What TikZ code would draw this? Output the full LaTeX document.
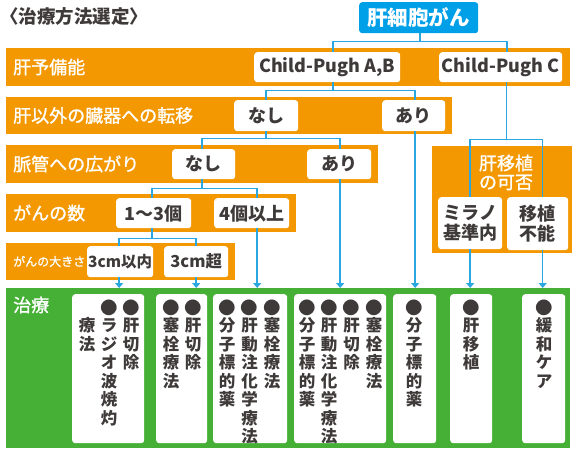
\documentclass[tikz,border=0pt]{standalone}
\usepackage{fontspec}
\setmainfont{Noto Sans CJK JP}
\newfontfamily\medjp{Noto Sans CJK JP}[FakeBold=1.2]
\usetikzlibrary{arrows.meta}
\definecolor{orng}{HTML}{F39800}
\definecolor{topblue}{HTML}{00A0E9}
\definecolor{lblue}{HTML}{2AA7E0}
\definecolor{grn}{HTML}{45B035}
\definecolor{ink}{HTML}{3E3A39}
\newcommand{\bul}{\rule{0pt}{14pt}\raisebox{-1.5pt}[0pt][0pt]{\fontsize{17.5}{18}\selectfont ●}}
\newcommand{\nobul}{\rule{0pt}{14pt}}
\begin{document}
\begin{tikzpicture}[x=1pt,y=-1pt,
  band/.style={fill=orng, draw=none, inner sep=0pt, anchor=north west},
  lbl/.style={text=white, font=\medjp\fontsize{18}{20}\selectfont, anchor=west, inner sep=0pt},
  wbox/.style={fill=white, rounded corners=3pt, inner sep=0pt, anchor=north west, text=ink,
    font=\bfseries\fontsize{18}{20}\selectfont, align=center},
  rbox/.style={fill=white, rounded corners=3pt, inner sep=0pt, anchor=north west},
  vtext/.style={text=ink, font=\bfseries\fontsize{16.5}{18.5}\selectfont, align=center, anchor=north, inner sep=0pt},
  conn/.style={draw=lblue, line width=1.5pt},
  arr/.style={conn, -{Triangle[width=8pt,length=5pt]}}
]
\useasboundingbox (0,0) rectangle (573,449);

% title
\node[anchor=west, inner sep=0pt, text=ink, font=\bfseries\fontsize{18.5}{20}\selectfont] (title) at (0,17) {〈治療方法選定〉};

% top node
\node[fill=topblue, rounded corners=3pt, anchor=north west, inner sep=0pt, minimum width=119pt, minimum height=31pt,
  text=white, font=\bfseries\fontsize{20.5}{22}\selectfont] (liver) at (359,2) {肝細胞がん};

% orange bands
\node[band, minimum width=564pt, minimum height=38pt] (b1) at (6,48) {};
\node[band, minimum width=446pt, minimum height=37pt] (b2) at (6,97) {};
\node[band, minimum width=372pt, minimum height=38pt] (b3) at (6,145) {};
\node[band, minimum width=290pt, minimum height=38pt] (b4) at (6,194) {};
\node[band, minimum width=229pt, minimum height=37pt] (b5) at (6,243) {};
\node[band, minimum width=140pt, minimum height=107pt] (txbox) at (432,146) {};

\node[lbl] (l1) at (13,67) {肝予備能};
\node[lbl] (l2) at (13,115.5) {肝以外の臓器への転移};
\node[lbl] (l3) at (13,164) {脈管への広がり};
\node[lbl] (l4) at (13,213) {がんの数};
\node[lbl, font=\medjp\fontsize{12}{14}\selectfont] (l5) at (13,261.5) {がんの大きさ};
\node[text=white, font=\medjp\fontsize{18}{19}\selectfont, align=center, inner sep=0pt] (ltx) at (506,172.5) {肝移植\\の可否};

% green band
\node[fill=grn, inner sep=0pt, anchor=north west, minimum width=564pt, minimum height=160pt] (treat) at (6,288) {};
\node[lbl] (lt) at (13,305) {治療};

% white decision boxes
\node[wbox, minimum width=146pt, minimum height=30pt] (cpab) at (254,52) {Child-Pugh A,B};
\node[wbox, minimum width=123pt, minimum height=30pt] (cpc) at (439,52) {Child-Pugh C};
\node[wbox, minimum width=64pt, minimum height=31pt] (n2) at (234,100) {なし};
\node[wbox, minimum width=63pt, minimum height=31pt] (a2) at (382,100) {あり};
\node[wbox, minimum width=63pt, minimum height=30pt] (n3) at (172,149) {なし};
\node[wbox, minimum width=64pt, minimum height=30pt] (a3) at (307,149) {あり};
\node[wbox, minimum width=75pt, minimum height=30pt] (c13) at (116,198) {1〜3個};
\node[wbox, minimum width=75pt, minimum height=30pt] (c4) at (214,198) {4個以上};
\node[wbox, minimum width=66pt, minimum height=31pt, font=\bfseries\fontsize{15.5}{18}\selectfont] (s1) at (87,246) {3cm以内};
\node[wbox, minimum width=64pt, minimum height=31pt, font=\bfseries\fontsize{16.5}{18}\selectfont] (s2) at (164,246) {3cm超};
\node[wbox, minimum width=64pt, minimum height=52pt, font=\bfseries\fontsize{18}{20}\selectfont] (mil) at (438,197) {ミラノ\\基準内};
\node[wbox, minimum width=61pt, minimum height=53pt, font=\bfseries\fontsize{18}{20}\selectfont] (nt) at (507,197) {移植\\不能};

% result boxes
\node[rbox, minimum width=72pt, minimum height=149pt] (r1) at (72,294) {};
\node[rbox, minimum width=51pt, minimum height=149pt] (r2) at (156,294) {};
\node[rbox, minimum width=74pt, minimum height=149pt] (r3) at (213,294) {};
\node[rbox, minimum width=92pt, minimum height=149pt] (r4) at (294,294) {};
\node[rbox, minimum width=43pt, minimum height=149pt] (r5) at (393,294) {};
\node[rbox, minimum width=42pt, minimum height=149pt] (r6) at (450,294) {};
\node[rbox, minimum width=43pt, minimum height=149pt] (r7) at (522,294) {};

% vertical texts
\node[vtext] (r1a) at (131,299) {\bul\\肝\\切\\除};
\node[vtext] (r1b) at (109,299) {\bul\\ラ\\ジ\\オ\\波\\焼\\灼};
\node[vtext] (r1c) at (87,299) {\nobul\\療\\法};
\node[vtext] (r2a) at (193,299) {\bul\\肝\\切\\除};
\node[vtext] (r2b) at (171,299) {\bul\\塞\\栓\\療\\法};
\node[vtext] (r3a) at (272,299) {\bul\\塞\\栓\\療\\法};
\node[vtext] (r3b) at (249.5,299) {\bul\\肝\\動\\注\\化\\学\\療\\法};
\node[vtext] (r3c) at (227,299) {\bul\\分\\子\\標\\的\\薬};
\node[vtext] (r4a) at (374,299) {\bul\\塞\\栓\\療\\法};
\node[vtext] (r4b) at (351.5,299) {\bul\\肝\\切\\除};
\node[vtext] (r4c) at (329,299) {\bul\\肝\\動\\注\\化\\学\\療\\法};
\node[vtext] (r4d) at (307,299) {\bul\\分\\子\\標\\的\\薬};
\node[vtext] (r5a) at (414,299) {\bul\\分\\子\\標\\的\\薬};
\node[vtext] (r6a) at (471,299) {\bul\\肝\\移\\植};
\node[vtext] (r7a) at (544,299) {\bul\\緩\\和\\ケ\\ア};

% connectors
\draw[conn] ([xshift=1.5pt]liver.south) -- ++(0,8) -| ([xshift=6pt]cpab.north);
\draw[conn] ([xshift=1.5pt]liver.south) ++(0,8) -| ([xshift=6.5pt]cpc.north);

\draw[conn] ([xshift=6pt]cpab.south) -- ++(0,8) -| (n2.north);
\draw[conn] ([xshift=6pt]cpab.south) ++(0,8) -| ([xshift=1.5pt]a2.north);

\draw[conn] (n2.south) -- ++(0,7) -| ([xshift=-1.5pt]n3.north);
\draw[conn] (n2.south) ++(0,7) -| ([xshift=1pt]a3.north);

\draw[conn] ([xshift=-1.5pt]n3.south) -- ++(0,9) -| ([xshift=-1.5pt]c13.north);
\draw[conn] ([xshift=-1.5pt]n3.south) ++(0,9) -| ([xshift=5.5pt]c4.north);

\draw[conn] ([xshift=-1.5pt]c13.south) -- ++(0,10) -| ([xshift=-1pt]s1.north);
\draw[conn] ([xshift=-1.5pt]c13.south) ++(0,10) -| (s2.north);

\draw[conn] ([xshift=6pt]cpc.south) -- ++(0,57) -| (mil.north);
\draw[conn] ([xshift=6pt]cpc.south) ++(0,57) -| ([xshift=5pt]nt.north);

\draw[arr] ([xshift=-1pt]s1.south) -- ([xshift=-1pt]s1.south |- treat.north);
\draw[arr] (s2.south) -- (s2.south |- treat.north);
\draw[arr] ([xshift=5.5pt]c4.south) -- ([xshift=5.5pt]c4.south |- treat.north);
\draw[arr] ([xshift=1pt]a3.south) -- ([xshift=1pt]a3.south |- treat.north);
\draw[arr] ([xshift=1.5pt]a2.south) -- ([xshift=1.5pt]a2.south |- treat.north);
\draw[arr] (mil.south) -- (mil.south |- treat.north);
\draw[arr] ([xshift=5pt]nt.south) -- ([xshift=5pt]nt.south |- treat.north);
\end{tikzpicture}
\end{document}
